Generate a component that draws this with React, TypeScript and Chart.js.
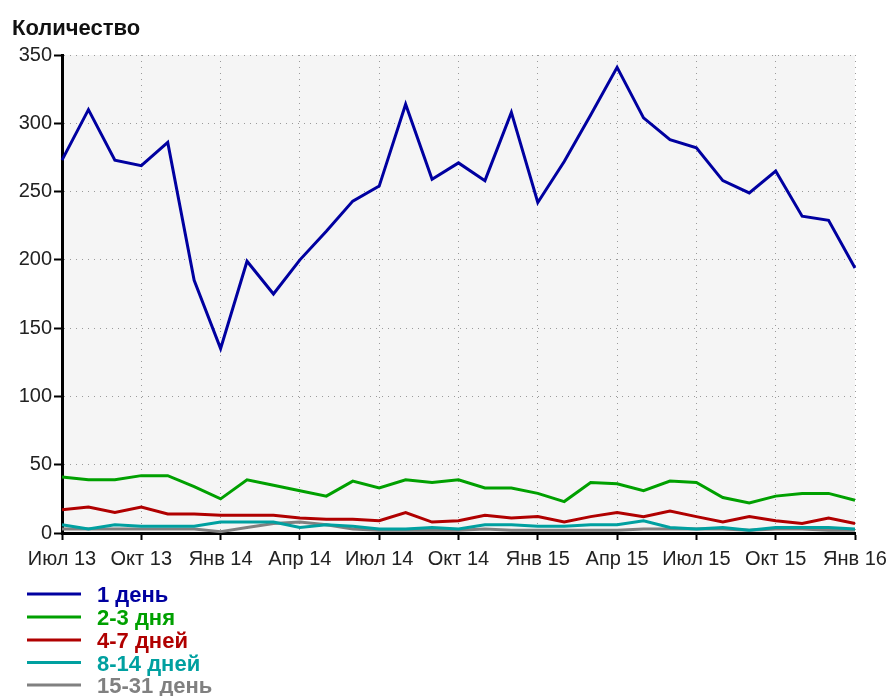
import React, { useEffect, useRef } from "react";
import { Chart, registerables } from "chart.js";

Chart.register(...registerables);

const months: string[] = [
  "Июл 13", "Авг 13", "Сен 13", "Окт 13", "Ноя 13", "Дек 13",
  "Янв 14", "Фев 14", "Мар 14", "Апр 14", "Май 14", "Июн 14",
  "Июл 14", "Авг 14", "Сен 14", "Окт 14", "Ноя 14", "Дек 14",
  "Янв 15", "Фев 15", "Мар 15", "Апр 15", "Май 15", "Июн 15",
  "Июл 15", "Авг 15", "Сен 15", "Окт 15", "Ноя 15", "Дек 15",
  "Янв 16",
];

const seriesNames: string[] = ["1 день", "2-3 дня", "4-7 дней", "8-14 дней", "15-31 день"];

const day1: number[] = [
  273, 310, 273, 269, 286, 185, 135, 199, 175, 200, 221, 243,
  254, 314, 259, 271, 258, 308, 242, 272, 306, 341, 304, 288,
  282, 258, 249, 265, 232, 229, 194,
];
const days2to3: number[] = [
  41, 39, 39, 42, 42, 34, 25, 39, 35, 31, 27, 38,
  33, 39, 37, 39, 33, 33, 29, 23, 37, 36, 31, 38,
  37, 26, 22, 27, 29, 29, 24,
];
const days4to7: number[] = [
  17, 19, 15, 19, 14, 14, 13, 13, 13, 11, 10, 10,
  9, 15, 8, 9, 13, 11, 12, 8, 12, 15, 12, 16,
  12, 8, 12, 9, 7, 11, 7,
];
const days8to14: number[] = [
  6, 3, 6, 5, 5, 5, 8, 8, 8, 4, 6, 5,
  3, 3, 4, 3, 6, 6, 5, 5, 6, 6, 9, 4,
  3, 4, 2, 4, 4, 4, 3,
];
const days15to31: number[] = [
  3, 3, 3, 3, 3, 3, 1, 4, 7, 8, 6, 3,
  2, 2, 2, 2, 3, 2, 2, 2, 2, 2, 3, 3,
  3, 3, 2, 3, 3, 2, 2,
];

const colors: string[] = ["#0000a0", "#00a000", "#b00000", "#00a0a0", "#808080"];
const yTicks: number[] = [0, 50, 100, 150, 200, 250, 300, 350];
const yTitle = "Количество";

const FONT = "'Liberation Sans', Arial, sans-serif";

export default function App() {
  const ref = useRef<HTMLCanvasElement | null>(null);

  useEffect(() => {
    if (!ref.current) return;
    const allSeries = [day1, days2to3, days4to7, days8to14, days15to31];

    const bgPlugin = {
      id: "bgPlugin",
      beforeDraw(chart: any) {
        const { ctx, chartArea } = chart;
        ctx.save();
        ctx.fillStyle = "#ffffff";
        ctx.fillRect(0, 0, chart.width, chart.height);
        ctx.fillStyle = "#f5f5f5";
        ctx.fillRect(chartArea.left, chartArea.top, chartArea.right - chartArea.left, chartArea.bottom - chartArea.top);
        ctx.restore();
      },
      afterDraw(chart: any) {
        const { ctx } = chart;
        ctx.save();
        ctx.fillStyle = "#111";
        ctx.font = `bold 22px ${FONT}`;
        ctx.textBaseline = "alphabetic";
        ctx.textAlign = "left";
        ctx.fillText(yTitle, 12, 35);
        // legend
        const rowY = [594, 617, 640, 662.5, 685];
        seriesNames.forEach((name, i) => {
          const y = rowY[i];
          ctx.strokeStyle = colors[i];
          ctx.lineWidth = 3;
          ctx.beginPath();
          ctx.moveTo(27, y);
          ctx.lineTo(81, y);
          ctx.stroke();
          ctx.fillStyle = colors[i];
          ctx.font = `bold 22px ${FONT}`;
          ctx.textBaseline = "middle";
          ctx.fillText(name, 97, y + 2);
        });
        ctx.restore();
      },
    };

    const chart = new Chart(ref.current, {
      type: "line",
      data: {
        labels: months,
        datasets: seriesNames.map((name, i) => ({
          label: name,
          data: allSeries[i],
          borderColor: colors[i],
          backgroundColor: colors[i],
          borderWidth: 3,
          pointRadius: 0,
          tension: 0,
          fill: false,
        })),
      },
      options: {
        animation: false,
        responsive: false,
        events: [],
        layout: { padding: { left: 8, top: 55, right: 35, bottom: 118 } },
        plugins: { legend: { display: false }, tooltip: { enabled: false }, title: { display: false } },
        scales: {
          x: {
            type: "category",
            offset: false,
            grid: {
              color: (c: any) => (c.index % 3 === 0 && c.index !== 0 ? "#9a9a9a" : "rgba(0,0,0,0)"),
              tickColor: (c: any) => (c.index % 3 === 0 ? "#000" : "rgba(0,0,0,0)"),
              tickLength: 7,
              tickWidth: 2,
              lineWidth: 1,
              drawTicks: true,
            },
            border: { display: true, color: "#000", width: 3, dash: [1, 5] },
            ticks: {
              autoSkip: false,
              maxRotation: 0,
              minRotation: 0,
              padding: 7,
              color: "#222",
              font: { family: FONT, size: 20 },
              callback: (v: any, i: number) => (i % 3 === 0 ? months[i] : ""),
            },
            afterFit: (s: any) => {
              s.height = 45;
              s.paddingLeft = 0;
              s.paddingRight = 0;
            },
          },
          y: {
            min: 0,
            max: 350,
            afterBuildTicks: (s: any) => {
              s.ticks = yTicks.map((v) => ({ value: v }));
            },
            grid: {
              color: (c: any) => (c.tick && c.tick.value === 0 ? "rgba(0,0,0,0)" : "#9a9a9a"),
              tickColor: "#000",
              tickLength: 8,
              tickWidth: 2,
              lineWidth: 1,
            },
            border: { display: true, color: "#000", width: 3, dash: [1, 5] },
            ticks: {
              padding: 2,
              color: "#222",
              font: { family: FONT, size: 20 },
            },
            afterFit: (s: any) => {
              s.width = 54;
              s.paddingTop = 0;
              s.paddingBottom = 0;
            },
          },
        },
      },
      plugins: [bgPlugin],
    } as any);

    return () => chart.destroy();
  }, []);

  return (
    <div style={{ position: "fixed", left: 0, top: 0, width: 890, height: 696, background: "#fff" }}>
      <canvas ref={ref} width={890} height={696} style={{ width: 890, height: 696, display: "block" }} />
    </div>
  );
}
